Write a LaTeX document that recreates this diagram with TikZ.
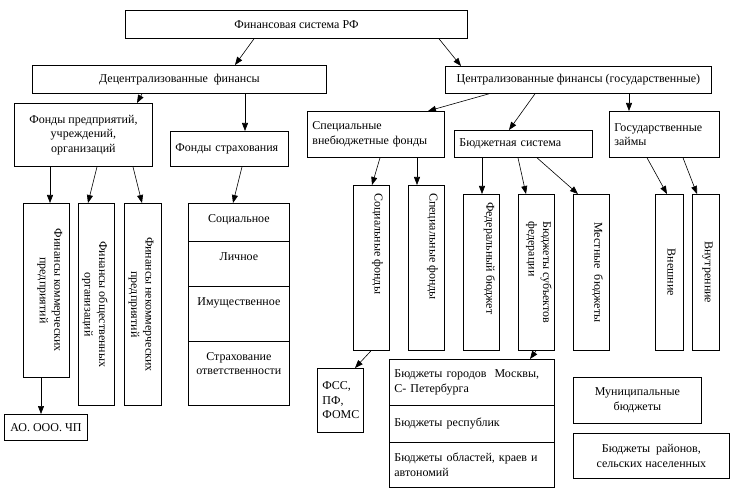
\documentclass[tikz,border=0pt]{standalone}
\usepackage{fontspec}
\setmainfont{Liberation Serif}
\usetikzlibrary{arrows.meta}
\newcommand{\BoxFont}{\fontsize{12}{14.5}\selectfont}

\begin{document}
\begin{tikzpicture}[x=1pt,y=-1pt,
  blk/.style={draw,line width=0.8pt,inner sep=0pt,anchor=north west,align=center,font=\BoxFont},
  blkL/.style={blk,align=left,inner xsep=5pt},
  lbl/.style={inner sep=0pt,align=center,font=\BoxFont},
  vlbl/.style={lbl,rotate=-90},
  link/.style={-{Triangle[length=8pt,width=6pt]},line width=0.6pt}]
\useasboundingbox (0,0) rectangle (733,494);

% upper levels
\node[blk,minimum width=342,minimum height=28] (fin) at (125,10) {Финансовая система РФ};
\node[blk,minimum width=294,minimum height=28] (dec) at (32,65) {Децентрализованные\ \ финансы};
\node[blk,minimum width=266,minimum height=27] (cen) at (445,66) {Централизованные финансы (государственные)};

\node[blk,minimum width=138,minimum height=63] (fpr) at (14,103) {Фонды предприятий,\\учреждений,\\организаций};
\node[blkL,text width=108,minimum height=35] (fstr) at (170,131) {Фонды страхования};
\node[blkL,text width=127,minimum height=46] (spf) at (307,111) {Специальные\\внебюджетные фонды};
\node[blkL,text width=128,minimum height=27] (bud) at (454,130) {Бюджетная система};
\node[blkL,text width=100,minimum height=46] (gz) at (609,111) {Государственные\\займы};

% decentralized branch
\node[blk,minimum width=46,minimum height=174] (kom) at (23,203) {};
\node[vlbl] (tkom) at ([xshift=3.5pt]kom.center) {Финансы коммерческих\\предприятий};
\node[blk,minimum width=36,minimum height=202] (obs) at (78,203) {};
\node[vlbl] (tobs) at ([xshift=-1.5pt]obs.center) {Финансы общественных\\организаций};
\node[blk,minimum width=37,minimum height=202] (nek) at (124,203) {};
\node[vlbl] (tnek) at ([xshift=-2pt]nek.center) {Финансы некоммерческих\\предприятий};
\node[blk,minimum width=83,minimum height=26] (ao) at (4,414) {АО. ООО. ЧП};

\node[blk,minimum width=101,minimum height=38] (ins1) at (188,203) {};
\node[blk,minimum width=101,minimum height=45] (ins2) at (188,241) {};
\node[blk,minimum width=101,minimum height=55] (ins3) at (188,286) {};
\node[blk,minimum width=101,minimum height=64] (ins4) at (188,341) {};
\node[lbl,anchor=north] (tins1) at ([yshift=-11pt]ins1.north) {Социальное};
\node[lbl,anchor=north] (tins2) at ([yshift=-11pt]ins2.north) {Личное};
\node[lbl,anchor=north] (tins3) at ([yshift=-11pt]ins3.north) {Имущественное};
\node[lbl,anchor=north] (tins4) at ([yshift=-11pt]ins4.north) {Страхование\\ответственности};

% centralized branch
\node[blk,minimum width=36,minimum height=165] (socf) at (353,185) {};
\node[vlbl,anchor=west] (tsocf) at ([xshift=6pt,yshift=-8pt]socf.north) {Социальные фонды};
\node[blk,minimum width=36,minimum height=165] (spcf) at (408,185) {};
\node[vlbl,anchor=west] (tspcf) at ([xshift=6pt,yshift=-8pt]spcf.north) {Специальные фонды};
\node[blk,minimum width=36,minimum height=156] (fed) at (463,194) {};
\node[vlbl,anchor=west] (tfed) at ([xshift=8pt,yshift=-8pt]fed.north) {Федеральный бюджет};
\node[blk,minimum width=36,minimum height=156] (subj) at (518,194) {};
\node[vlbl,align=left] (tsubj) at ([xshift=2.5pt]subj.center) {Бюджеты субъектов\\федерации};
\node[blk,minimum width=36,minimum height=156] (mest) at (573,194) {};
\node[vlbl] (tmest) at ([xshift=6pt]mest.center) {Местные\ \ бюджеты};
\node[blk,minimum width=28,minimum height=156] (vne) at (655,194) {};
\node[vlbl] (tvne) at ([xshift=2pt]vne.center) {Внешние};
\node[blk,minimum width=27,minimum height=156] (vnu) at (692,194) {};
\node[vlbl] (tvnu) at ([xshift=1.5pt]vnu.center) {Внутренние};

\node[blkL,text width=36,minimum height=64] (fss) at (317,368) {ФСС,\\ПФ,\\ФОМС};
\node[blkL,text width=155,minimum height=46] (reg1) at (389,359) {Бюджеты городов\ \ Москвы,\\С- Петербурга};
\node[blkL,text width=155,minimum height=37] (reg2) at (389,405) {Бюджеты республик};
\node[blkL,text width=155,minimum height=45] (reg3) at (389,442) {Бюджеты областей, краев и\\автономий};
\node[blk,minimum width=128,minimum height=46] (mun) at (573,377) {Муниципальные\\бюджеты};
\node[blk,minimum width=156,minimum height=45] (ray) at (573,433) {Бюджеты\ \ районов,\\сельских населенных};

% arrows
\draw[link] (254,0 |- fin.south) -- (235,0 |- dec.north);
\draw[link] (439,0 |- fin.south) -- (461,0 |- cen.north);
\draw[link] (142,0 |- dec.south) -- (137,0 |- fpr.north);
\draw[link] (245,0 |- dec.south) -- (245,0 |- fstr.north);
\draw[link] (489,0 |- cen.south) -- (428,0 |- spf.north);
\draw[link] (535,0 |- cen.south) -- (509,0 |- bud.north);
\draw[link] (629,0 |- cen.south) -- (629,0 |- gz.north);
\draw[link] (50,0 |- fpr.south) -- (50,0 |- kom.north);
\draw[link] (97,0 |- fpr.south) -- (88,0 |- obs.north);
\draw[link] (133,0 |- fpr.south) -- (142,0 |- nek.north);
\draw[link] (242,0 |- fstr.south) -- (233,0 |- ins1.north);
\draw[link] (380,0 |- spf.south) -- (372,0 |- socf.north);
\draw[link] (417,0 |- spf.south) -- (417,0 |- spcf.north);
\draw[link] (482,0 |- bud.south) -- (482,0 |- fed.north);
\draw[link] (518,0 |- bud.south) -- (526,0 |- subj.north);
\draw[link] (537,0 |- bud.south) -- (578,0 |- mest.north);
\draw[link] (647,0 |- gz.south) -- (667,0 |- vne.north);
\draw[link] (683,0 |- gz.south) -- (697,0 |- vnu.north);
\draw[link] (41,0 |- kom.south) -- (41,0 |- ao.north);
\draw[link] (371,0 |- socf.south) -- (355,0 |- fss.north);
\draw[link] (536,0 |- subj.south) -- (530,0 |- reg1.north);
\end{tikzpicture}
\end{document}
